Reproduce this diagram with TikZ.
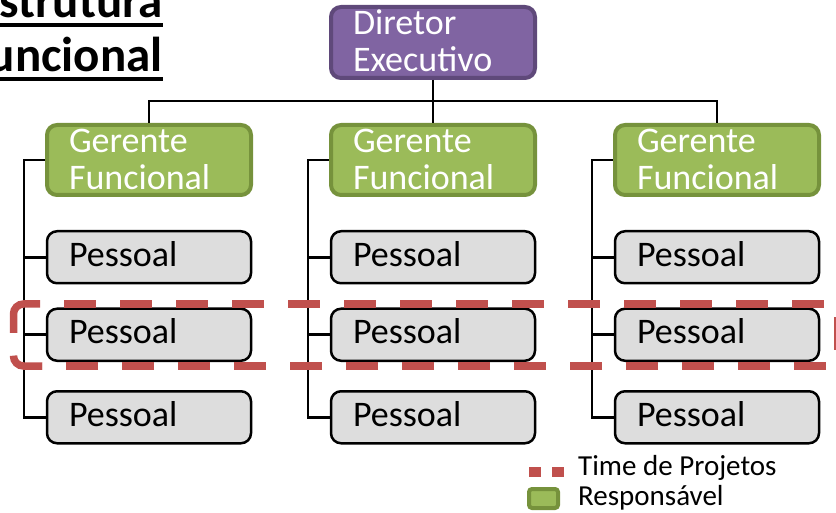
\documentclass[tikz,border=0pt]{standalone}
\usepackage{fontspec}
\setmainfont{Carlito}
\usetikzlibrary{positioning}
\definecolor{dirfill}{HTML}{8064A2}
\definecolor{dirline}{HTML}{5F497A}
\definecolor{gerfill}{HTML}{9BBB59}
\definecolor{gerline}{HTML}{76923C}
\definecolor{pesfill}{HTML}{DDDDDD}
\definecolor{teamred}{HTML}{C0504D}
\newcommand{\ulword}[1]{\vtop{\hbox{#1}\kern5pt\hrule height 4pt}}
\tikzset{
  orgbox/.style={rounded corners=10pt, inner xsep=22pt, inner ysep=0pt,
    text width=160pt, align=left, font=\fontsize{36}{37}\selectfont},
  diretor/.style={orgbox, fill=dirfill, draw=dirline, line width=4pt,
    text=white, text height=28pt, text depth=43pt},
  gerente/.style={orgbox, fill=gerfill, draw=gerline, line width=4pt,
    text=white, text height=27.5pt, text depth=42.5pt},
  pessoal/.style={orgbox, fill=pesfill, draw=black, line width=2.5pt,
    text height=35pt, text depth=17pt},
  link/.style={draw=black, line width=2.7pt},
  team/.style={draw=teamred, line width=7.5pt, dash pattern=on 32pt off 24pt},
  teamend/.style={draw=teamred, line width=7.5pt, rounded corners=10pt},
  titulo/.style={font=\fontsize{49}{54}\bfseries, inner sep=0pt, anchor=base east},
  legenda/.style={font=\fontsize{29}{30}\selectfont, inner sep=0pt, anchor=base west}
}
\begin{document}
\begin{tikzpicture}[x=1pt, y=1pt]
	\useasboundingbox (0,0) rectangle (836,-513);
	%% titulo
	\node[titulo] (ttl1) at (163,-18) {\ulword{Estrutura}};
	\node[titulo] (ttl2) at (163,-72) {\ulword{Funcional}};
	%% diretor e gerentes
	\node[diretor] (dir) at (433,-42.5) {Diretor\\Executivo};
	\node[gerente, below=43pt of dir] (g2) {Gerente\\Funcional};
	\node[gerente, left=76pt of g2] (g1) {Gerente\\Funcional};
	\node[gerente, right=76pt of g2] (g3) {Gerente\\Funcional};
	\coordinate[below=21pt of dir.south] (hub);
	\draw[link] (dir.south) -- (g2.north);
	\draw[link] (g1.north) |- (hub) -| (g3.north);
	%% pessoal de cada gerente
	\foreach \c in {1,2,3} {
		\node[pessoal, below=33pt of g\c] (p\c1) {Pessoal};
		\node[pessoal, below=23pt of p\c1] (p\c2) {Pessoal};
		\node[pessoal, below=28pt of p\c2] (p\c3) {Pessoal};
		\coordinate[left=21pt of g\c.west] (v\c);
		\draw[link] (g\c.west) -- (v\c) |- (p\c3.west);
		\draw[link] (p\c1.west) -- (p\c1.west -| v\c);
		\draw[link] (p\c2.west) -- (p\c2.west -| v\c);
	}
	%% time de projetos
	\draw[team] (64,-304) -- (850,-304);
	\draw[team] (826,-366) -- (42,-366);
	\draw[teamend] (40,-304) -- (13.5,-304) -- (13.5,-333);
	\draw[teamend] (13.5,-357) -- (13.5,-366) -- (42,-366);
	\draw[teamend] (838,-317) -- (838,-350);
	%% legenda
	\coordinate (k1) at (529,-472);
	\coordinate (k2) at (566,-472);
	\draw[team, line width=10pt, dash pattern=on 12pt off 11pt] (k1) -- (k2);
	\node[legenda] (l1) at (578,-475) {Time de Projetos};
	\node[draw=gerline, fill=gerfill, line width=4pt, rounded corners=3pt,
		minimum width=29pt, minimum height=19pt, inner sep=0pt] (k3) at (543.5,-498.5) {};
	\node[legenda] (l2) at (578,-505) {Responsável};
\end{tikzpicture}
\end{document}
